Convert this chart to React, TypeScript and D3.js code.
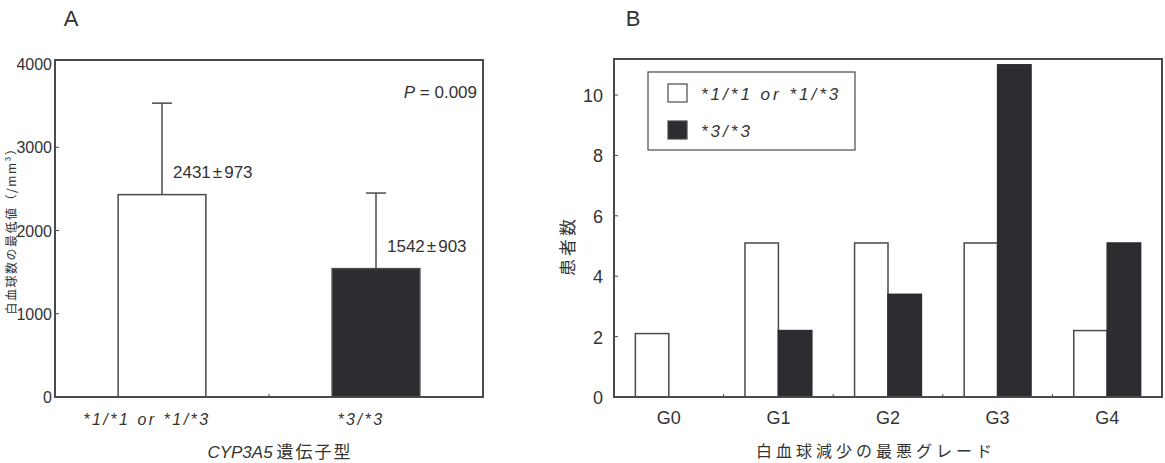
import React from 'react';
import * as d3 from 'd3';

// panel A: lowest WBC count by genotype
const aGroups = ['*1/*1 or *1/*3', '*3/*3'];
const aMeans = [2431, 1542];
const aSd = [973, 903];
const aErrTop = [3530, 2450]; // upper whisker as drawn
const aTicks = [0, 1000, 2000, 3000, 4000];

// panel B: patients per worst leukopenia grade
const bGrades = ['G0', 'G1', 'G2', 'G3', 'G4'];
const bSeries = ['*1/*1 or *1/*3', '*3/*3'];
const bWild = [2.1, 5.1, 5.1, 5.1, 2.2];
const bHomo = [0, 2.2, 3.4, 11.0, 5.1];
const bTicks = [0, 2, 4, 6, 8, 10];

const DARK = '#2c2c31';
const LINE = '#4a4a4a';
const TXT = '#333';
const NUM = '"Liberation Sans", Arial, sans-serif';
const JP = '"Noto Sans CJK JP", sans-serif';

const PanelA: React.FC = () => {
    const left = 55, right = 483, top = 60, bottom = 397;
    const x = d3.scaleBand<string>().domain(aGroups).range([left, right]).paddingInner(0.59).paddingOuter(0.295);
    const y = d3.scaleLinear().domain([0, 4000]).range([bottom, 64]);
    const fills = ['#fff', DARK];
    return (
        <g>
            <text x={71} y={26} fontSize={22} fontFamily={NUM} fill={TXT} textAnchor="middle">A</text>
            {aGroups.map((g, i) => {
                const bx = x(g)!;
                const cx = bx + x.bandwidth() / 2;
                return (
                    <g key={g}>
                        <line x1={cx} x2={cx} y1={y(aMeans[i])} y2={y(aErrTop[i])} stroke={LINE} strokeWidth={1.5} />
                        <line x1={cx - 10} x2={cx + 10} y1={y(aErrTop[i])} y2={y(aErrTop[i])} stroke={LINE} strokeWidth={1.5} />
                        <rect x={bx} y={y(aMeans[i])} width={x.bandwidth()} height={bottom - y(aMeans[i])}
                            fill={fills[i]} stroke={LINE} strokeWidth={1.5} />
                        <text x={cx + 11} y={y(aMeans[i]) - 17} fontSize={17} fontFamily={NUM} fill={TXT}>
                            {aMeans[i]}<tspan dx={2}>±</tspan><tspan dx={2}>{aSd[i]}</tspan>
                        </text>
                        <text x={cx - 15} y={425} fontSize={16} fontFamily={NUM} fontStyle="italic" fill={TXT}
                            textAnchor="middle" letterSpacing={2.5}>{g}</text>
                    </g>
                );
            })}
            <rect x={left} y={top} width={right - left} height={bottom - top} fill="none" stroke={LINE} strokeWidth={2} />
            {aTicks.map(t => (
                <g key={t}>
                    {t > 0 && t < 4000 && <line x1={left} x2={left + 4} y1={y(t)} y2={y(t)} stroke={LINE} />}
                    <text x={left - 3} y={y(t) + 6} fontSize={16} fontFamily={NUM} fill={TXT} textAnchor="end">{t}</text>
                </g>
            ))}
            <line x1={left + x.step()} x2={left + x.step()} y1={bottom} y2={bottom - 3} stroke={LINE} />
            <text x={477} y={98} fontSize={17} fontFamily={NUM} fill={TXT} textAnchor="end">
                <tspan fontStyle="italic">P</tspan> = 0.009
            </text>
            <text x={280} y={458} fontSize={17} fill={TXT} textAnchor="middle">
                <tspan fontFamily={NUM} fontStyle="italic">CYP3A5</tspan>
                <tspan fontFamily={JP} dx={4} letterSpacing={2}>遺伝子型</tspan>
            </text>
            <text transform="translate(10.5,228) rotate(-90)" fontSize={12} fontFamily={JP} fill={TXT}
                textAnchor="middle" dominantBaseline="central" letterSpacing={1.5}>白血球数の最低値（/mm³）</text>
        </g>
    );
};

const PanelB: React.FC = () => {
    const left = 614, right = 1162, top = 59, bottom = 397;
    const x0 = d3.scaleBand<string>().domain(bGrades).range([left, right]).paddingInner(0.39).paddingOuter(0.195);
    const x1 = d3.scaleBand<string>().domain(bSeries).range([0, x0.bandwidth()]);
    const y = d3.scaleLinear().domain([0, 10]).range([bottom, 95]);
    const vals = [bWild, bHomo];
    const fills = ['#fff', DARK];
    return (
        <g>
            <text x={633} y={26} fontSize={22} fontFamily={NUM} fill={TXT} textAnchor="middle">B</text>
            {bGrades.map((g, gi) => (
                <g key={g} transform={`translate(${x0(g)},0)`}>
                    {bSeries.map((s, si) => {
                        const v = vals[si][gi];
                        if (v <= 0) return null;
                        const yy = Math.max(y(v), top + 3);
                        return (
                            <rect key={s} x={x1(s)} y={yy} width={x1.bandwidth()} height={bottom - yy}
                                fill={fills[si]} stroke={si === 0 ? LINE : DARK} strokeWidth={1.5} />
                        );
                    })}
                    <text x={x0.bandwidth() / 2} y={424} fontSize={18} fontFamily={NUM} fill={TXT} textAnchor="middle">{g}</text>
                </g>
            ))}
            <rect x={left} y={top} width={right - left} height={bottom - top} fill="none" stroke={LINE} strokeWidth={2} />
            {bTicks.map(t => (
                <g key={t}>
                    {t > 0 && <line x1={left} x2={left + 4} y1={y(t)} y2={y(t)} stroke={LINE} />}
                    <text x={603} y={y(t) + 7} fontSize={18} fontFamily={NUM} fill={TXT} textAnchor="end">{t}</text>
                </g>
            ))}
            {bGrades.slice(1).map(g => (
                <line key={g} x1={x0(g)! - x0.step() * 0.195} x2={x0(g)! - x0.step() * 0.195} y1={bottom} y2={bottom - 3} stroke={LINE} />
            ))}
            <g>
                <rect x={648} y={72} width={207} height={78} fill="#fff" stroke={LINE} strokeWidth={1.2} />
                {bSeries.map((s, si) => (
                    <g key={s} transform={`translate(0,${si * 37})`}>
                        <rect x={668} y={84} width={19} height={18} fill={fills[si]} stroke={LINE} strokeWidth={1.2} />
                        <text x={701} y={100} fontSize={17} fontFamily={NUM} fontStyle="italic" fill={TXT} letterSpacing={3}>{s}</text>
                    </g>
                ))}
            </g>
            <text x={876} y={457} fontSize={16} fontFamily={JP} fill={TXT} textAnchor="middle" letterSpacing={4}>白血球減少の最悪グレード</text>
            <text transform="translate(566,246) rotate(-90)" fontSize={17} fontFamily={JP} fill={TXT}
                textAnchor="middle" dominantBaseline="central" letterSpacing={3}>患者数</text>
        </g>
    );
};

export default function App() {
    return (
        <svg width={1165} height={463} viewBox="0 0 1165 463"
            style={{ position: 'absolute', left: 0, top: 0, background: '#fff' }}>
            <PanelA />
            <PanelB />
        </svg>
    );
}
